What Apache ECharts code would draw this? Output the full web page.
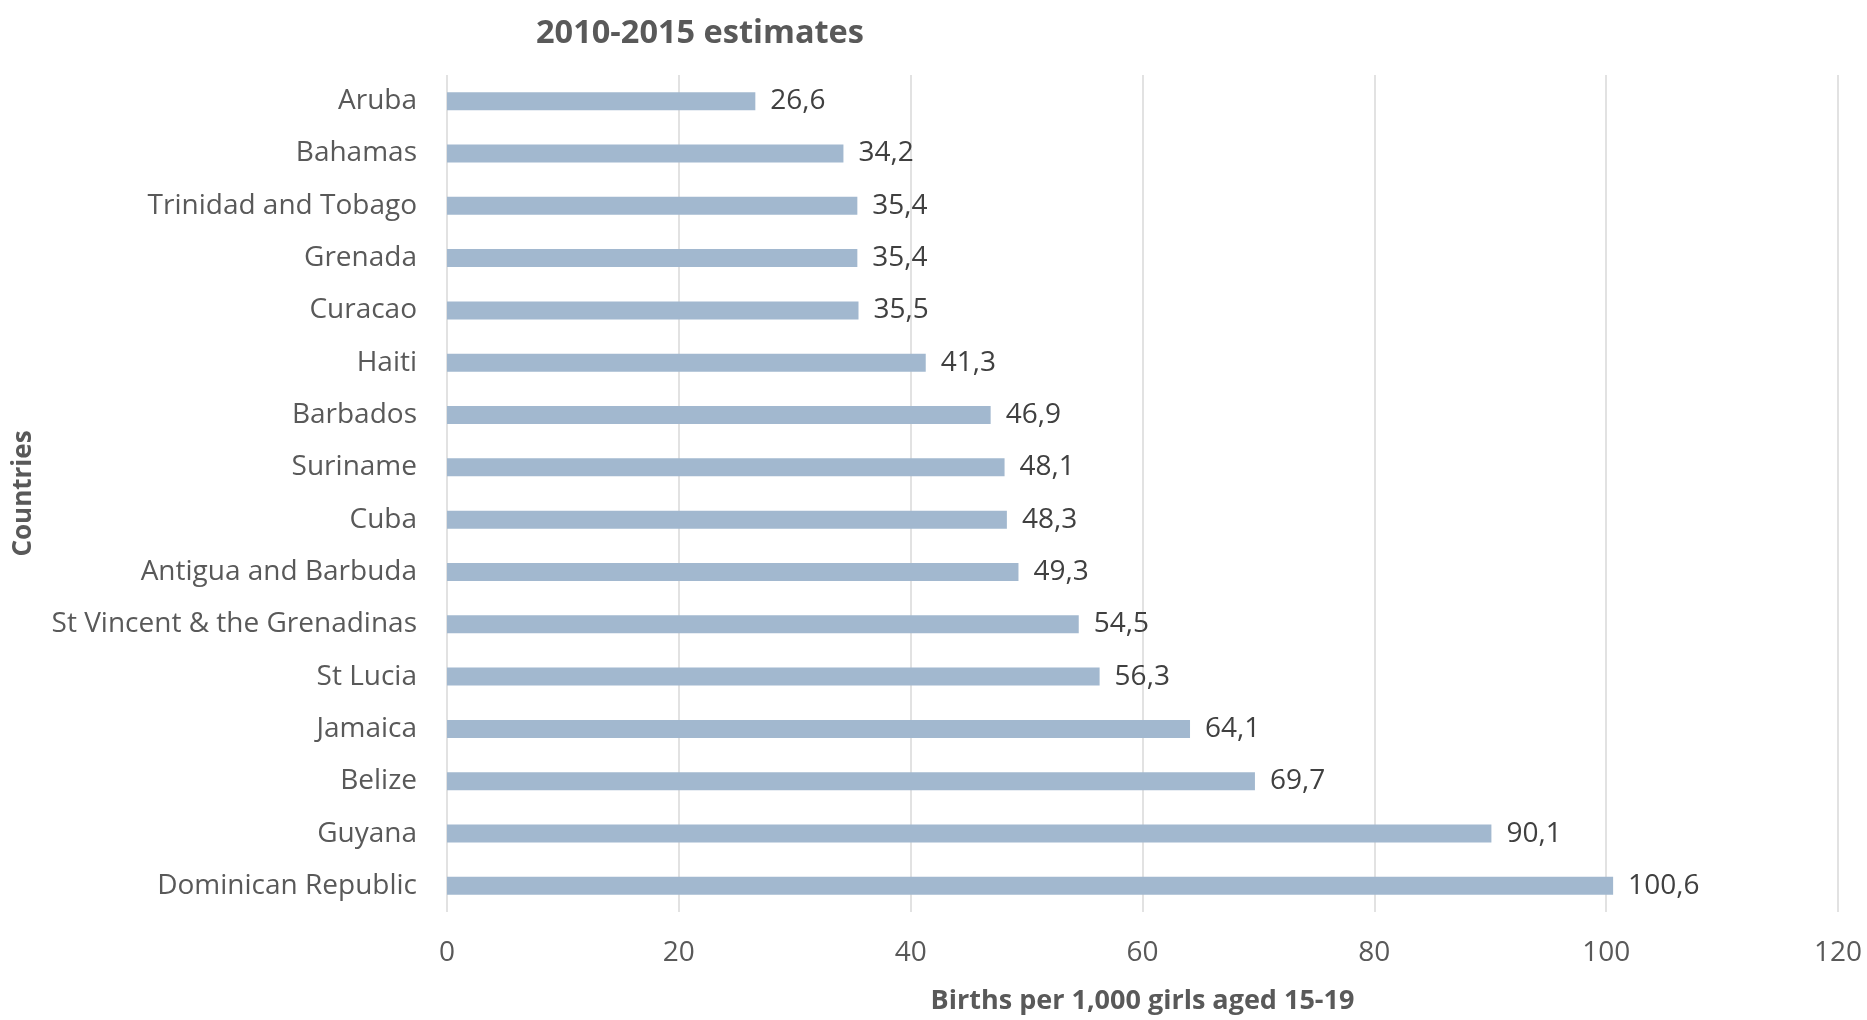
<!DOCTYPE html>
<html>
<head>
<meta charset="utf-8">
<script src="https://cdn.jsdelivr.net/npm/echarts@6/dist/echarts.min.js"></script>
<style>
html,body{margin:0;padding:0;background:#fff;}
#chart{width:1867px;height:1020px;}
</style>
</head>
<body>
<div id="chart"></div>
<script>
const categories = ["Aruba","Bahamas","Trinidad and Tobago","Grenada","Curacao","Haiti","Barbados","Suriname","Cuba","Antigua and Barbuda","St Vincent & the Grenadinas","St Lucia","Jamaica","Belize","Guyana","Dominican Republic"];
const values = [26.6,34.2,35.4,35.4,35.5,41.3,46.9,48.1,48.3,49.3,54.5,56.3,64.1,69.7,90.1,100.6];
const titleText = "2010-2015 estimates";
const xAxisTitle = "Births per 1,000 girls aged 15-19";
const yAxisTitle = "Countries";

const FONT = "'Open Sans', 'Noto Sans', sans-serif";
const chart = echarts.init(document.getElementById('chart'));
chart.setOption({
  backgroundColor: '#ffffff',
  animation: false,
  title: {
    text: titleText,
    left: 695, top: 29, textAlign: 'center', textVerticalAlign: 'middle',
    textStyle: {fontFamily: FONT, fontSize: 32.5, fontWeight: 'bold', color: '#595959'}
  },
  grid: {left: 447, right: 29, top: 75, bottom: 104, containLabel: false},
  xAxis: {
    type: 'value', min: 0, max: 120, interval: 20,
    name: xAxisTitle, nameLocation: 'middle', nameGap: 76,
    nameTextStyle: {fontFamily: FONT, fontSize: 27, fontWeight: 'bold', color: '#595959'},
    axisLine: {show: false}, axisTick: {show: false},
    axisLabel: {fontFamily: FONT, fontSize: 28, color: '#595959', margin: 27},
    splitLine: {show: true, lineStyle: {color: '#d9d9d9', width: 1.5}}
  },
  yAxis: {
    type: 'category', data: categories, inverse: true,
    name: yAxisTitle, nameLocation: 'middle', nameGap: 410, nameRotate: 90,
    nameTextStyle: {fontFamily: FONT, fontSize: 26, fontWeight: 'bold', color: '#595959'},
    axisLine: {show: false}, axisTick: {show: false},
    axisLabel: {fontFamily: FONT, fontSize: 28, color: '#595959', margin: 30}
  },
  series: [{
    type: 'bar', data: values, barWidth: 18,
    itemStyle: {color: '#a2b8cf'},
    label: {
      show: true, position: 'right', distance: 15,
      fontFamily: FONT, fontSize: 28, color: '#404040',
      formatter: p => String(p.value.toFixed(1)).replace('.', ',')
    }
  }]
});
</script>
</body>
</html>
